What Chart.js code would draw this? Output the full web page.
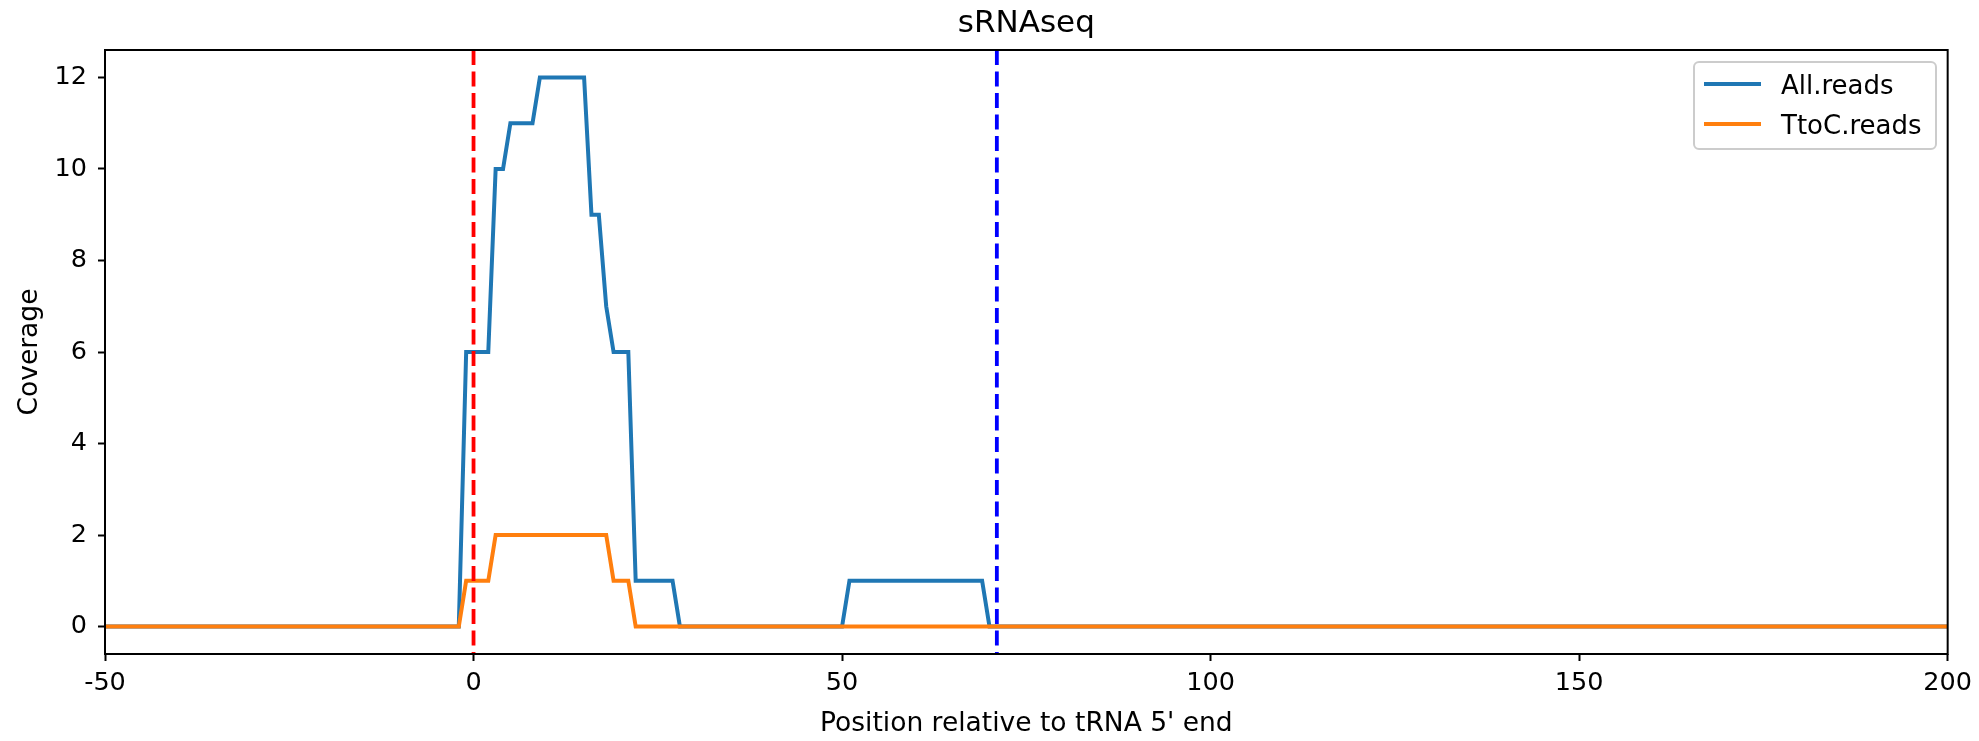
<!DOCTYPE html>
<html>
<head>
<meta charset="utf-8">
<title>sRNAseq</title>
<script src="https://cdn.jsdelivr.net/npm/chart.js"></script>
<style>
  html, body { margin: 0; padding: 0; background: #fff; }
  #wrap { width: 1979px; height: 741px; }
</style>
</head>
<body>
<div id="wrap"><canvas id="cov" width="1979" height="741"></canvas></div>
<script>
// ---------- DATA (breakpoints) ----------
const allPos  = [-50, -2, -1, 2, 3, 4, 5, 8, 9, 15, 16, 17, 18, 19, 21, 22, 27, 28, 50, 51, 69, 70, 200];
const allCov  = [  0,  0,  6, 6, 10, 10, 11, 11, 12, 12, 9, 9, 7, 6, 6, 1, 1, 0, 0, 1, 1, 0, 0];
const ttocPos = [-50, -2, -1, 2, 3, 18, 19, 21, 22, 200];
const ttocCov = [  0,  0,  1, 1, 2, 2, 1, 1, 0, 0];

const markerPos    = [0, 71];
const markerColors = ['#ff0000', '#0000ff'];

const xTicks = [-50, 0, 50, 100, 150, 200];
const yTicks = [0, 2, 4, 6, 8, 10, 12];

const FONT = "'DejaVu Sans', sans-serif";

function toPoints(xs, ys) {
  return xs.map((x, i) => ({ x: x, y: ys[i] }));
}

/* ---------- DECORATIONS ---------- */
const decor = {
  id: 'decor',
  afterDatasetsDraw(chart) {
    const { ctx, chartArea: a, scales } = chart;

    // dashed vertical markers
    ctx.save();
    ctx.lineWidth = 3.8;
    ctx.setLineDash([15, 6.5]);
    markerPos.forEach((p, i) => {
      const px = scales.x.getPixelForValue(p);
      ctx.strokeStyle = markerColors[i];
      ctx.beginPath();
      ctx.moveTo(px, a.top);
      ctx.lineTo(px, a.bottom);
      ctx.stroke();
    });
    ctx.restore();
  },
  afterDraw(chart) {
    const { ctx, chartArea: a } = chart;
    ctx.save();

    // frame
    ctx.strokeStyle = '#000';
    ctx.lineWidth = 2;
    ctx.strokeRect(a.left, a.top, a.right - a.left, a.bottom - a.top);

    // title
    ctx.fillStyle = '#000';
    ctx.textAlign = 'center';
    ctx.textBaseline = 'alphabetic';
    ctx.font = '31px ' + FONT;
    ctx.fillText('sRNAseq', (a.left + a.right) / 2, 32);

    // axis labels
    ctx.font = '26.5px ' + FONT;
    ctx.fillText("Position relative to tRNA 5' end", (a.left + a.right) / 2, 731);
    ctx.save();
    ctx.translate(36.5, (a.top + a.bottom) / 2);
    ctx.rotate(-Math.PI / 2);
    ctx.textBaseline = 'alphabetic';
    ctx.fillText('Coverage', 0, 0);
    ctx.restore();

    // legend
    const lx = 1694, ly = 62, lw = 242, lh = 87;
    ctx.fillStyle = 'rgba(255,255,255,0.8)';
    ctx.strokeStyle = '#cccccc';
    ctx.lineWidth = 2;
    ctx.beginPath();
    ctx.roundRect(lx, ly, lw, lh, 5);
    ctx.fill();
    ctx.stroke();

    ctx.textAlign = 'left';
    ctx.textBaseline = 'alphabetic';
    ctx.font = '26px ' + FONT;
    chart.data.datasets.forEach((ds, i) => {
      const y = 84 + i * 40;
      ctx.strokeStyle = ds.borderColor;
      ctx.lineWidth = ds.borderWidth;
      ctx.beginPath();
      ctx.moveTo(1704, y);
      ctx.lineTo(1761, y);
      ctx.stroke();
      ctx.fillStyle = '#000';
      ctx.fillText(ds.label, 1781, y + 10);
    });
    ctx.restore();
  }
};

/* ---------- CHART ---------- */
new Chart(document.getElementById('cov'), {
  type: 'line',
  data: {
    datasets: [
      {
        label: 'All.reads',
        data: toPoints(allPos, allCov),
        borderColor: '#1f77b4',
        borderWidth: 4,
        pointRadius: 0,
        tension: 0,
        order: 1
      },
      {
        label: 'TtoC.reads',
        data: toPoints(ttocPos, ttocCov),
        borderColor: '#ff7f0e',
        borderWidth: 4,
        pointRadius: 0,
        tension: 0,
        order: 0
      }
    ]
  },
  options: {
    responsive: false,
    animation: false,
    devicePixelRatio: 1,
    layout: { padding: { left: 0, top: 50, right: 31, bottom: 0 } },
    plugins: {
      legend: { display: false },
      tooltip: { enabled: false },
      title: { display: false }
    },
    scales: {
      x: {
        type: 'linear',
        min: -50,
        max: 200,
        afterFit: s => { s.height = 87; },
        afterBuildTicks: s => { s.ticks = xTicks.map(v => ({ value: v })); },
        grid: { display: true, drawOnChartArea: false, drawTicks: true, tickLength: 7, tickWidth: 2, tickColor: '#000' },
        border: { display: false },
        ticks: { color: '#000', padding: 7, font: { family: FONT, size: 25.5 }, callback: v => String(v) }
      },
      y: {
        type: 'linear',
        min: -0.6,
        max: 12.6,
        afterFit: s => { s.width = 105; },
        afterBuildTicks: s => { s.ticks = yTicks.map(v => ({ value: v })); },
        grid: { display: true, drawOnChartArea: false, drawTicks: true, tickLength: 7, tickWidth: 2, tickColor: '#000' },
        border: { display: false },
        ticks: { color: '#000', padding: 11, font: { family: FONT, size: 25.5 }, callback: v => String(v) }
      }
    }
  },
  plugins: [decor]
});
</script>
</body>
</html>
